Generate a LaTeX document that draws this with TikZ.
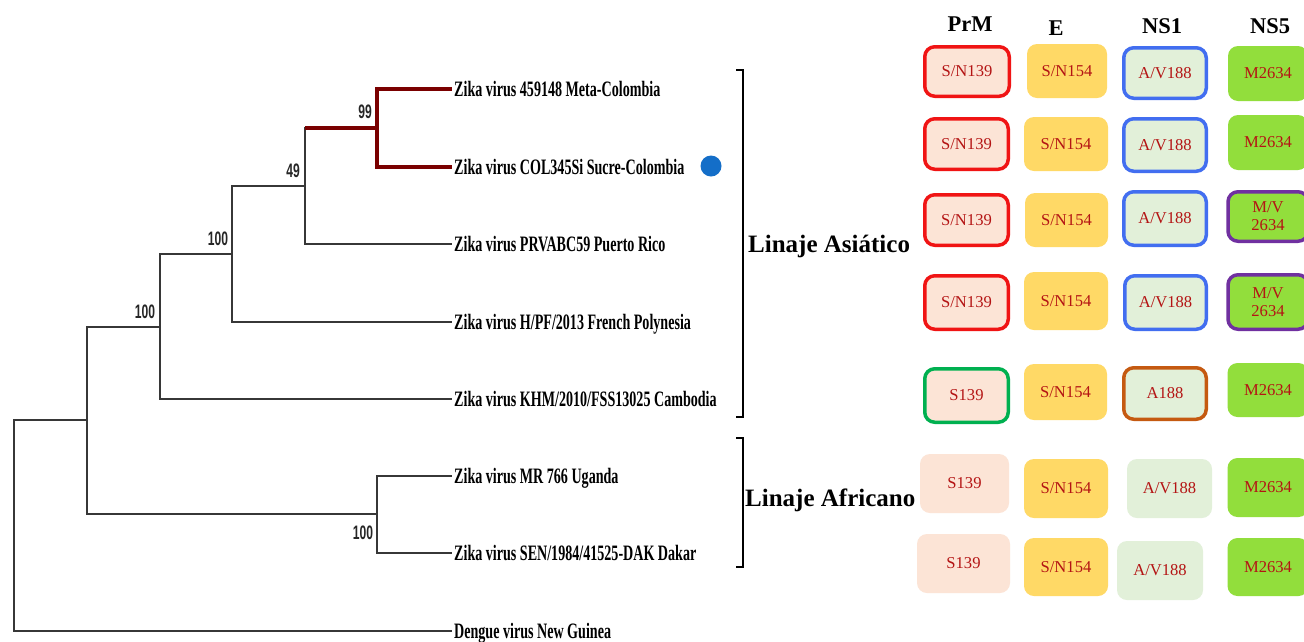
\documentclass[tikz,border=0pt]{standalone}
\usepackage{fontspec}
\setmainfont{Liberation Serif}
\newfontfamily\bsans{Liberation Sans}
\definecolor{treegray}{RGB}{55,55,55}
\definecolor{darkred}{RGB}{122,0,0}
\definecolor{prmfill}{RGB}{252,228,214}
\definecolor{efill}{RGB}{255,217,102}
\definecolor{nsafill}{RGB}{226,240,217}
\definecolor{nsbfill}{RGB}{146,222,60}
\definecolor{redline}{RGB}{240,20,20}
\definecolor{blueline}{RGB}{66,110,240}
\definecolor{purpline}{RGB}{112,48,160}
\definecolor{greenline}{RGB}{0,176,80}
\definecolor{orangeline}{RGB}{197,90,17}
\definecolor{boxtext}{RGB}{180,20,20}
\definecolor{dotblue}{RGB}{20,110,200}
\newcommand\gbox[7]{\node[#2, minimum width=#5pt, minimum height=#6pt] (#1) at (#3,#4) {#7};}
\newcommand\cz[1]{\scalebox{0.64}[1]{#1}}
\newcommand\bs[1]{\scalebox{0.62}[1]{#1}}
\begin{document}
\begin{tikzpicture}[x=1pt,y=-1pt,
  branch/.style={draw=treegray, line width=2pt},
  redbranch/.style={draw=darkred, line width=4.5pt},
  leaf/.style={anchor=west, inner xsep=2pt, inner ysep=0pt, text height=14.6pt, text depth=0pt, font=\fontsize{22}{22}\selectfont\bfseries},
  boot/.style={font=\bsans\bfseries\fontsize{19.5}{19.5}\selectfont, inner sep=0pt, text=black!85},
  lineage/.style={anchor=west, inner sep=0pt, text height=16.5pt, text depth=0pt, font=\fontsize{25}{25}\selectfont\bfseries},
  head/.style={inner sep=0pt, font=\fontsize{22.5}{22.5}\selectfont\bfseries},
  bracket/.style={draw=black, line width=2.5pt},
  box/.style={rounded corners=10pt, inner sep=0pt, text=boxtext, font=\fontsize{16.6}{18}\selectfont, align=center},
  prm/.style={box, fill=prmfill},
  ebox/.style={box, fill=efill},
  nsa/.style={box, fill=nsafill},
  nsb/.style={box, fill=nsbfill},
  bred/.style={draw=redline, line width=3.5pt},
  bblue/.style={draw=blueline, line width=3.5pt},
  bpurp/.style={draw=purpline, line width=3.5pt},
  bgreen/.style={draw=greenline, line width=3.5pt},
  borange/.style={draw=orangeline, line width=3.5pt}
]
\clip (0,0) rectangle (1304,641);
\fill[white] (0,0) rectangle (1304,641);

% internal nodes
\coordinate (R) at (14,525);
\coordinate (A) at (87,420);
\coordinate (B) at (160,327);
\coordinate (C) at (232,254);
\coordinate (D) at (305,186);
\coordinate (E) at (377,128);
\coordinate (F) at (377,514);

% leaves
\node[leaf] (l1) at (452,89) {\cz{Zika virus 459148 Meta-Colombia}};
\node[leaf] (l2) at (452,167) {\cz{Zika virus COL345Si Sucre-Colombia}};
\node[leaf] (l3) at (452,244) {\cz{Zika virus PRVABC59 Puerto Rico}};
\node[leaf] (l4) at (452,322) {\cz{Zika virus H/PF/2013 French Polynesia}};
\node[leaf] (l5) at (452,399) {\cz{Zika virus KHM/2010/FSS13025 Cambodia}};
\node[leaf] (l6) at (452,476) {\cz{Zika virus MR 766 Uganda}};
\node[leaf] (l7) at (452,553) {\cz{Zika virus SEN/1984/41525-DAK Dakar}};
\node[leaf] (l8) at (452,631) {\cz{Dengue virus New Guinea}};

% branches
\draw[branch] (R) |- (A);
\draw[branch] (R) |- (l8.west);
\draw[branch] (A) |- (B);
\draw[branch] (A) |- (F);
\draw[branch] (B) |- (C);
\draw[branch] (B) |- (l5.west);
\draw[branch] (C) |- (D);
\draw[branch] (C) |- (l4.west);
\draw[branch] (D) |- (E);
\draw[branch] (D) |- (l3.west);
\draw[branch] (F) |- (l6.west);
\draw[branch] (F) |- (l7.west);
\draw[redbranch] (D |- E) -- (E);
\draw[redbranch] (E) |- (l1.west);
\draw[redbranch] (E) |- (l2.west);

% bootstrap values
\node[boot] (b99) at (365,112) {\bs{99}};
\node[boot] (b49) at (293,171) {\bs{49}};
\node[boot] (bC) at (218,239) {\bs{100}};
\node[boot] (bB) at (145,312) {\bs{100}};
\node[boot] (bF) at (363,533) {\bs{100}};

% marker
\node[circle, fill=dotblue, inner sep=0pt, minimum size=21pt] (dot) at (711,166) {};

% brackets
\coordinate (as1) at (736,70);
\coordinate (as2) at (743,70);
\coordinate (as3) at (743,417);
\coordinate (as4) at (736,417);
\draw[bracket] (as1) -- (as2) -- (as3) -- (as4);
\coordinate (af1) at (736,438);
\coordinate (af2) at (743,438);
\coordinate (af3) at (743,567);
\coordinate (af4) at (736,567);
\draw[bracket] (af1) -- (af2) -- (af3) -- (af4);
\node[lineage] (linas) at (748,244.5) {Linaje Asiático};
\node[lineage] (linaf) at (745,498.5) {Linaje Africano};

% headers
\node[head] (hP) at (970,24) {PrM};
\node[head] (hE) at (1056,28) {E};
\node[head] (hN1) at (1162,26) {NS1};
\node[head] (hN5) at (1270,26) {NS5};

% row 1
\gbox{p1}{prm,bred}{967}{71.5}{84.5}{49.5}{S/N139}
\gbox{e1}{ebox}{1067}{71}{80}{54}{S/N154}
\gbox{n1a}{nsa,bblue}{1165}{73}{82.5}{50.5}{A/V188}
\gbox{n5a}{nsb}{1268}{73.5}{80}{55}{M2634}
% row 2
\gbox{p2}{prm,bred}{966.5}{144}{83.5}{50.5}{S/N139}
\gbox{e2}{ebox}{1066}{144}{84}{54}{S/N154}
\gbox{n1b}{nsa,bblue}{1165}{145}{82.5}{52.5}{A/V188}
\gbox{n5b}{nsb}{1268}{142.5}{80}{55}{M2634}
% row 3
\gbox{p3}{prm,bred}{966.5}{220}{83.5}{50.5}{S/N139}
\gbox{e3}{ebox}{1066.5}{220}{83}{54}{S/N154}
\gbox{n1c}{nsa,bblue}{1165}{218.5}{82.5}{53.5}{A/V188}
\gbox{n5c}{nsb,bpurp}{1268}{216.5}{80}{49.5}{M/V\\2634}
% row 4
\gbox{p4}{prm,bred}{966.5}{302.5}{83.5}{53.5}{S/N139}
\gbox{e4}{ebox}{1066}{301}{84}{58}{S/N154}
\gbox{n1d}{nsa,bblue}{1165.5}{302.5}{81.5}{53.5}{A/V188}
\gbox{n5d}{nsb,bpurp}{1268}{302}{80}{54.5}{M/V\\2634}
% row 5
\gbox{p5}{prm,bgreen}{966.5}{395.5}{83.5}{53.5}{S139}
\gbox{e5}{ebox}{1065.5}{392}{83}{56}{S/N154}
\gbox{n1e}{nsa,borange}{1165}{393.5}{82.5}{51.5}{A188}
\gbox{n5e}{nsb}{1268}{390}{81}{54}{M2634}
% row 6
\gbox{p6}{prm}{964.5}{483.5}{89}{59}{S139}
\gbox{e6}{ebox}{1066}{488.5}{84}{59}{S/N154}
\gbox{n1f}{nsa}{1169.5}{488.5}{85}{59}{A/V188}
\gbox{n5f}{nsb}{1268}{487.5}{81}{59}{M2634}
% row 7
\gbox{p7}{prm}{963.5}{563.5}{93}{59}{S139}
\gbox{e7}{ebox}{1066}{567}{84}{58}{S/N154}
\gbox{n1g}{nsa}{1160}{570.5}{86}{59}{A/V188}
\gbox{n5g}{nsb}{1268}{567}{81}{58}{M2634}
\end{tikzpicture}
\end{document}
